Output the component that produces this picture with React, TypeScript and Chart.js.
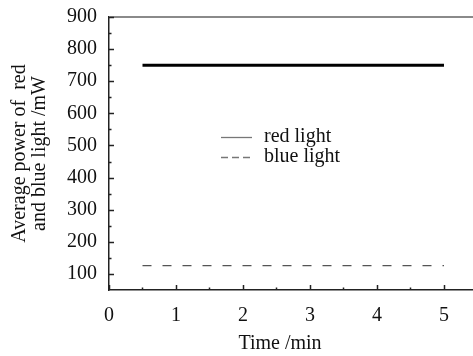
import React, { useEffect, useRef } from 'react';
import { Chart, registerables } from 'chart.js';

Chart.register(...registerables);

const timeMin = [0.5, 1, 1.5, 2, 2.5, 3, 3.5, 4, 4.5, 5];
const redPower = [750, 750, 750, 750, 750, 750, 750, 750, 750, 750];
const bluePower = [126, 126, 126, 126, 126, 126, 126, 126, 126, 126];
const seriesLabels = ['red light', 'blue light'];
const xTickValues = [0, 1, 2, 3, 4, 5];
const xMinorTickValues = [0.5, 1.5, 2.5, 3.5, 4.5];
const yTickValues = [100, 200, 300, 400, 500, 600, 700, 800, 900];
const yMinorTickValues = [150, 250, 350, 450, 550, 650, 750, 850];
const yTitleLines = ['Average power of  red', 'and blue light /mW'];
const xTitle = 'Time /min';

const FONT = '"Liberation Serif", "Times New Roman", serif';

const decorPlugin = {
  id: 'decor',
  afterDatasetsDraw(chart: any) {
    const { ctx, chartArea, scales } = chart;
    const x = scales.x;
    const y = scales.y;
    ctx.save();
    // top frame line
    ctx.strokeStyle = '#8a8a8a';
    ctx.lineWidth = 2;
    ctx.beginPath();
    ctx.moveTo(chartArea.left, chartArea.top);
    ctx.lineTo(chartArea.right, chartArea.top);
    ctx.stroke();

    // inward ticks
    ctx.strokeStyle = '#222';
    ctx.lineWidth = 1.5;
    const bottom = chartArea.bottom;
    const left = chartArea.left;
    ctx.beginPath();
    xTickValues.forEach((v) => {
      const px = Math.round(x.getPixelForValue(v)) + 0.5;
      ctx.moveTo(px, bottom);
      ctx.lineTo(px, bottom - 5);
    });
    xMinorTickValues.forEach((v) => {
      const px = Math.round(x.getPixelForValue(v)) + 0.5;
      ctx.moveTo(px, bottom);
      ctx.lineTo(px, bottom - 2.5);
    });
    yTickValues.forEach((v) => {
      const py = Math.round(y.getPixelForValue(v)) + 0.5;
      ctx.moveTo(left, py);
      ctx.lineTo(left + 5, py);
    });
    yMinorTickValues.forEach((v) => {
      const py = Math.round(y.getPixelForValue(v)) + 0.5;
      ctx.moveTo(left, py);
      ctx.lineTo(left + 2.5, py);
    });
    ctx.stroke();

    // legend
    const legX0 = 221;
    const legX1 = 252;
    const legY0 = 137;
    const legStep = 20;
    chart.data.datasets.forEach((ds: any, i: number) => {
      const ly = legY0 + i * legStep + 0.5;
      ctx.strokeStyle = '#777';
      ctx.lineWidth = 1.3;
      ctx.setLineDash(i === 0 ? [] : [7, 4]);
      ctx.beginPath();
      ctx.moveTo(legX0, ly);
      ctx.lineTo(legX1, ly);
      ctx.stroke();
      ctx.setLineDash([]);
      ctx.fillStyle = '#111';
      ctx.font = '20px ' + FONT;
      ctx.textAlign = 'left';
      ctx.textBaseline = 'middle';
      ctx.fillText(ds.label, 264, ly - 1);
    });

    // x axis title
    ctx.fillStyle = '#111';
    ctx.font = '20px ' + FONT;
    ctx.textAlign = 'center';
    ctx.textBaseline = 'middle';
    ctx.fillText(xTitle, 280, 344);
    ctx.restore();
  },
};

export default function App() {
  const canvasRef = useRef<HTMLCanvasElement | null>(null);

  useEffect(() => {
    const canvas = canvasRef.current;
    if (!canvas) return;
    const chart = new Chart(canvas, {
      type: 'line',
      data: {
        datasets: [
          {
            label: seriesLabels[0],
            data: timeMin.map((t, i) => ({ x: t, y: redPower[i] })),
            borderColor: '#000',
            borderWidth: 3,
            pointRadius: 0,
            tension: 0,
            borderCapStyle: 'butt',
          },
          {
            label: seriesLabels[1],
            data: timeMin.map((t, i) => ({ x: t, y: bluePower[i] })),
            borderColor: '#555',
            borderWidth: 1.3,
            borderDash: [9, 11],
            pointRadius: 0,
            tension: 0,
            borderCapStyle: 'butt',
          },
        ],
      },
      options: {
        animation: false,
        responsive: false,
        devicePixelRatio: 1,
        layout: { padding: { top: 17, right: 0, left: 0, bottom: 0 } },
        plugins: {
          legend: { display: false },
          tooltip: { enabled: false },
        },
        scales: {
          x: {
            type: 'linear',
            min: 0,
            max: 5.433,
            grid: { display: false, drawTicks: false },
            border: { display: true, color: '#222', width: 1.5 },
            afterBuildTicks: (scale: any) => {
              scale.ticks = xTickValues.map((v) => ({ value: v }));
            },
            afterFit: (scale: any) => {
              scale.height = 66;
              scale.paddingLeft = 0;
              scale.paddingRight = 0;
            },
            ticks: {
              color: '#111',
              padding: 14,
              maxRotation: 0,
              font: { family: FONT, size: 20 },
              callback: (v: any) => String(v),
            },
            title: { display: false },
          },
          y: {
            type: 'linear',
            min: 50,
            max: 900,
            grid: { display: false, drawTicks: false },
            border: { display: true, color: '#222', width: 1.5 },
            afterBuildTicks: (scale: any) => {
              scale.ticks = yTickValues.map((v) => ({ value: v }));
            },
            afterFit: (scale: any) => {
              scale.width = 109;
              scale.paddingTop = 0;
              scale.paddingBottom = 0;
            },
            ticks: {
              color: '#111',
              padding: 12,
              font: { family: FONT, size: 20 },
              callback: (v: any) => String(v),
            },
            title: {
              display: true,
              text: yTitleLines,
              color: '#111',
              font: { family: FONT, size: 20, lineHeight: 1 },
              padding: { top: 10, bottom: 0 },
            },
          },
        },
      },
      plugins: [decorPlugin],
    } as any);
    return () => chart.destroy();
  }, []);

  return (
    <div style={{ position: 'absolute', left: 0, top: 0, width: 473, height: 356, background: '#fff' }}>
      <canvas ref={canvasRef} width={473} height={356} style={{ display: 'block' }} />
    </div>
  );
}
